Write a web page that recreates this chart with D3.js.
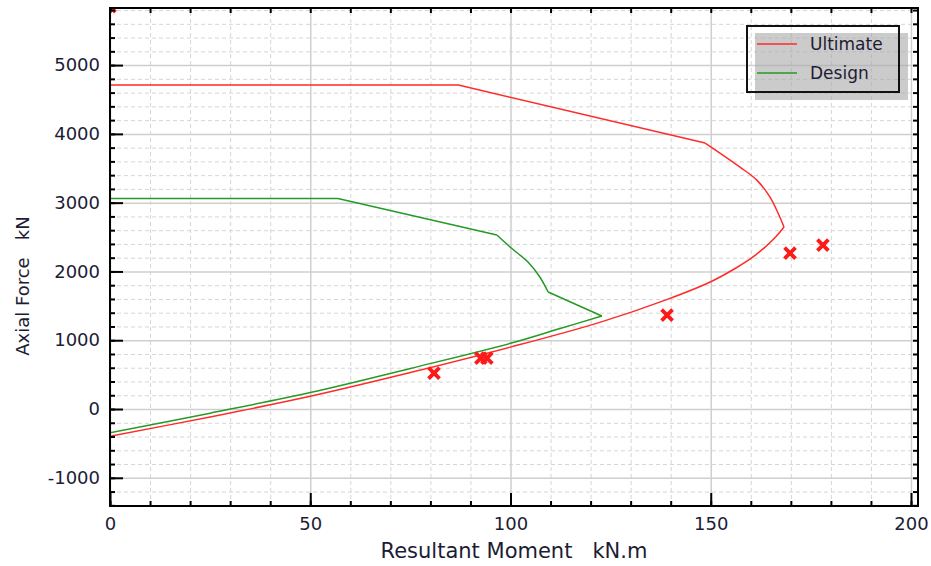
<!DOCTYPE html>
<html><head><meta charset="utf-8">
<script src="https://cdn.jsdelivr.net/npm/d3@7"></script>
<style>
html,body{margin:0;padding:0;background:#fff;}
svg{display:block;}
text{font-family:"DejaVu Sans",Verdana,sans-serif;}
</style></head>
<body><svg id="chart" width="931" height="566"></svg>
<script>
// ---- data ----
const ultimateM = [0, 87, 148.6, 157.3, 161.5, 164.8, 166.8, 168.3, 166.2, 163.5, 160.3, 156.3, 150, 139, 122.3, 100, 75, 50, 25, 0];
const ultimateP = [4710, 4710, 3866, 3517, 3328, 3081, 2849, 2645, 2500, 2350, 2200, 2050, 1850, 1590, 1260, 900, 530, 185, -115, -395];
const designM = [0, 56.9, 96.6, 100.2, 104.3, 107.2, 109.4, 122.8, 112.4, 100, 75, 50, 25, 0];
const designP = [3060, 3060, 2529, 2340, 2140, 1930, 1701, 1352, 1170, 955, 590, 240, -60, -345];
// piecewise: [startIndex, endIndex, smooth]
const ultimateParts = [[0, 2, false], [2, 7, true], [7, 19, true]];
const designParts = [[0, 2, false], [2, 6, true], [6, 7, false], [7, 13, true]];
const loadM = [80.9, 92.6, 94.1, 139.1, 169.8, 178, 0];
const loadP = [523, 741, 741, 1366, 2267, 2384, 5850];
const xTicks = [0, 50, 100, 150, 200];
const yTicks = [-1000, 0, 1000, 2000, 3000, 4000, 5000];
const xMinor = d3.range(0, 201, 10);
const yMinor = d3.range(-1400, 5801, 200);
const seriesNames = ["Ultimate", "Design"];
const seriesColors = ["#ff2a2a", "#259a25"];
const xTitle = "Resultant Moment   kN.m";
const yTitle = "Axial Force   kN";

// ---- layout ----
const L = 110, R = 918, T = 8, B = 506;
const svg = d3.select("#chart");
const x = d3.scaleLinear().domain([0, 201.75]).range([L, R]);
const y = d3.scaleLinear().domain([-1410, 5830]).range([B, T]);
const W = R - L, H = B - T;
const txtColor = "#1c1c34";

// grid
const gMinX = svg.append("g").attr("transform", `translate(0,${B})`)
  .call(d3.axisBottom(x).tickValues(xMinor.filter(v => v % 50 !== 0)).tickSize(-H).tickFormat(""));
const gMinY = svg.append("g").attr("transform", `translate(${L},0)`)
  .call(d3.axisLeft(y).tickValues(yMinor.filter(v => v % 1000 !== 0)).tickSize(-W).tickFormat(""));
[gMinX, gMinY].forEach(g => {
  g.select(".domain").remove();
  g.selectAll("line").attr("stroke", "#d6d6d6").attr("stroke-width", 1).attr("stroke-dasharray", "4,3");
});
const gMajX = svg.append("g").attr("transform", `translate(0,${B})`)
  .call(d3.axisBottom(x).tickValues(xTicks).tickSize(-H).tickFormat(""));
const gMajY = svg.append("g").attr("transform", `translate(${L},0)`)
  .call(d3.axisLeft(y).tickValues(yTicks).tickSize(-W).tickFormat(""));
[gMajX, gMajY].forEach(g => {
  g.select(".domain").remove();
  g.selectAll("line").attr("stroke", "#cfcfcf").attr("stroke-width", 1.5);
});

// clip
svg.append("clipPath").attr("id", "clip").append("rect")
  .attr("x", L).attr("y", T).attr("width", W).attr("height", H);
const plot = svg.append("g").attr("clip-path", "url(#clip)");

function drawSeries(M, P, parts, color) {
  parts.forEach(([a, b, smooth]) => {
    const pts = [];
    for (let i = a; i <= b; i++) pts.push([M[i], P[i]]);
    const ln = d3.line().x(d => x(d[0])).y(d => y(d[1]))
      .curve(smooth ? d3.curveCatmullRom.alpha(0.5) : d3.curveLinear);
    plot.append("path").datum(pts).attr("d", ln).attr("fill", "none")
      .attr("stroke", color).attr("stroke-width", 1.5).attr("stroke-linejoin", "round");
  });
}
drawSeries(ultimateM, ultimateP, ultimateParts, seriesColors[0]);
drawSeries(designM, designP, designParts, seriesColors[1]);

// markers
const s = 5.5;
plot.selectAll(".mk").data(loadM.map((m, i) => [m, loadP[i]])).enter().append("path")
  .attr("d", d => {
    const cx = x(d[0]), cy = y(d[1]);
    return `M${cx - s},${cy - s}L${cx + s},${cy + s}M${cx - s},${cy + s}L${cx + s},${cy - s}`;
  })
  .attr("stroke", "#ff1a1a").attr("stroke-width", 3.8).attr("fill", "none");

// axes ticks (inward)
function styleTicks(g) { g.select(".domain").remove(); g.selectAll("line").attr("stroke", "#000").attr("stroke-width", 2); }
svg.append("g").attr("transform", `translate(0,${B})`)
  .call(d3.axisBottom(x).tickValues(xMinor).tickSize(-5).tickFormat("")).call(styleTicks);
svg.append("g").attr("transform", `translate(0,${B})`)
  .call(d3.axisBottom(x).tickValues(xTicks).tickSize(-13).tickFormat("")).call(styleTicks);
svg.append("g").attr("transform", `translate(0,${T})`)
  .call(d3.axisTop(x).tickValues(xMinor).tickSize(-5).tickFormat("")).call(styleTicks);
svg.append("g").attr("transform", `translate(${L},0)`)
  .call(d3.axisLeft(y).tickValues(yMinor).tickSize(-5).tickFormat("")).call(styleTicks);
svg.append("g").attr("transform", `translate(${L},0)`)
  .call(d3.axisLeft(y).tickValues(yTicks).tickSize(-13).tickFormat("")).call(styleTicks);
svg.append("g").attr("transform", `translate(${R},0)`)
  .call(d3.axisRight(y).tickValues(yMinor).tickSize(-5).tickFormat("")).call(styleTicks);

// labels
const fmt = v => String(v);
const xl = svg.append("g").attr("transform", `translate(0,${B})`)
  .call(d3.axisBottom(x).tickValues(xTicks).tickSize(0).tickPadding(11).tickFormat(fmt));
xl.select(".domain").remove();
xl.selectAll("text").attr("font-size", 18).attr("fill", txtColor).attr("font-family", "DejaVu Sans, Verdana, sans-serif");
const yl = svg.append("g").attr("transform", `translate(${L},0)`)
  .call(d3.axisLeft(y).tickValues(yTicks).tickSize(0).tickPadding(10).tickFormat(fmt));
yl.select(".domain").remove();
yl.selectAll("text").attr("font-size", 18).attr("fill", txtColor).attr("font-family", "DejaVu Sans, Verdana, sans-serif");

// frame
svg.append("rect").attr("x", L).attr("y", T).attr("width", W).attr("height", H)
  .attr("fill", "none").attr("stroke", "#000").attr("stroke-width", 2);

// titles
svg.append("text").attr("x", 514).attr("y", 558).attr("text-anchor", "middle")
  .style("white-space", "pre").attr("font-size", 21).attr("fill", txtColor).text(xTitle);
svg.append("text").attr("transform", "translate(29,286) rotate(-90)").attr("text-anchor", "middle")
  .style("white-space", "pre").attr("font-size", 18).attr("fill", txtColor).text(yTitle);

// legend
const lg = svg.append("g");
lg.append("rect").attr("x", 755).attr("y", 33).attr("width", 153).attr("height", 67)
  .attr("fill", "#a8a8a8").attr("fill-opacity", 0.6);
lg.append("rect").attr("x", 747).attr("y", 26).attr("width", 152).attr("height", 66)
  .attr("fill", "none").attr("stroke", "#111").attr("stroke-width", 2);
seriesNames.forEach((n, i) => {
  const yy = 44 + i * 29;
  lg.append("line").attr("x1", 757).attr("x2", 797).attr("y1", yy).attr("y2", yy)
    .attr("stroke", seriesColors[i]).attr("stroke-width", 1.5);
  lg.append("text").attr("x", 810).attr("y", yy + 6).attr("font-size", 17).attr("fill", txtColor).text(n);
});
</script></body></html>
